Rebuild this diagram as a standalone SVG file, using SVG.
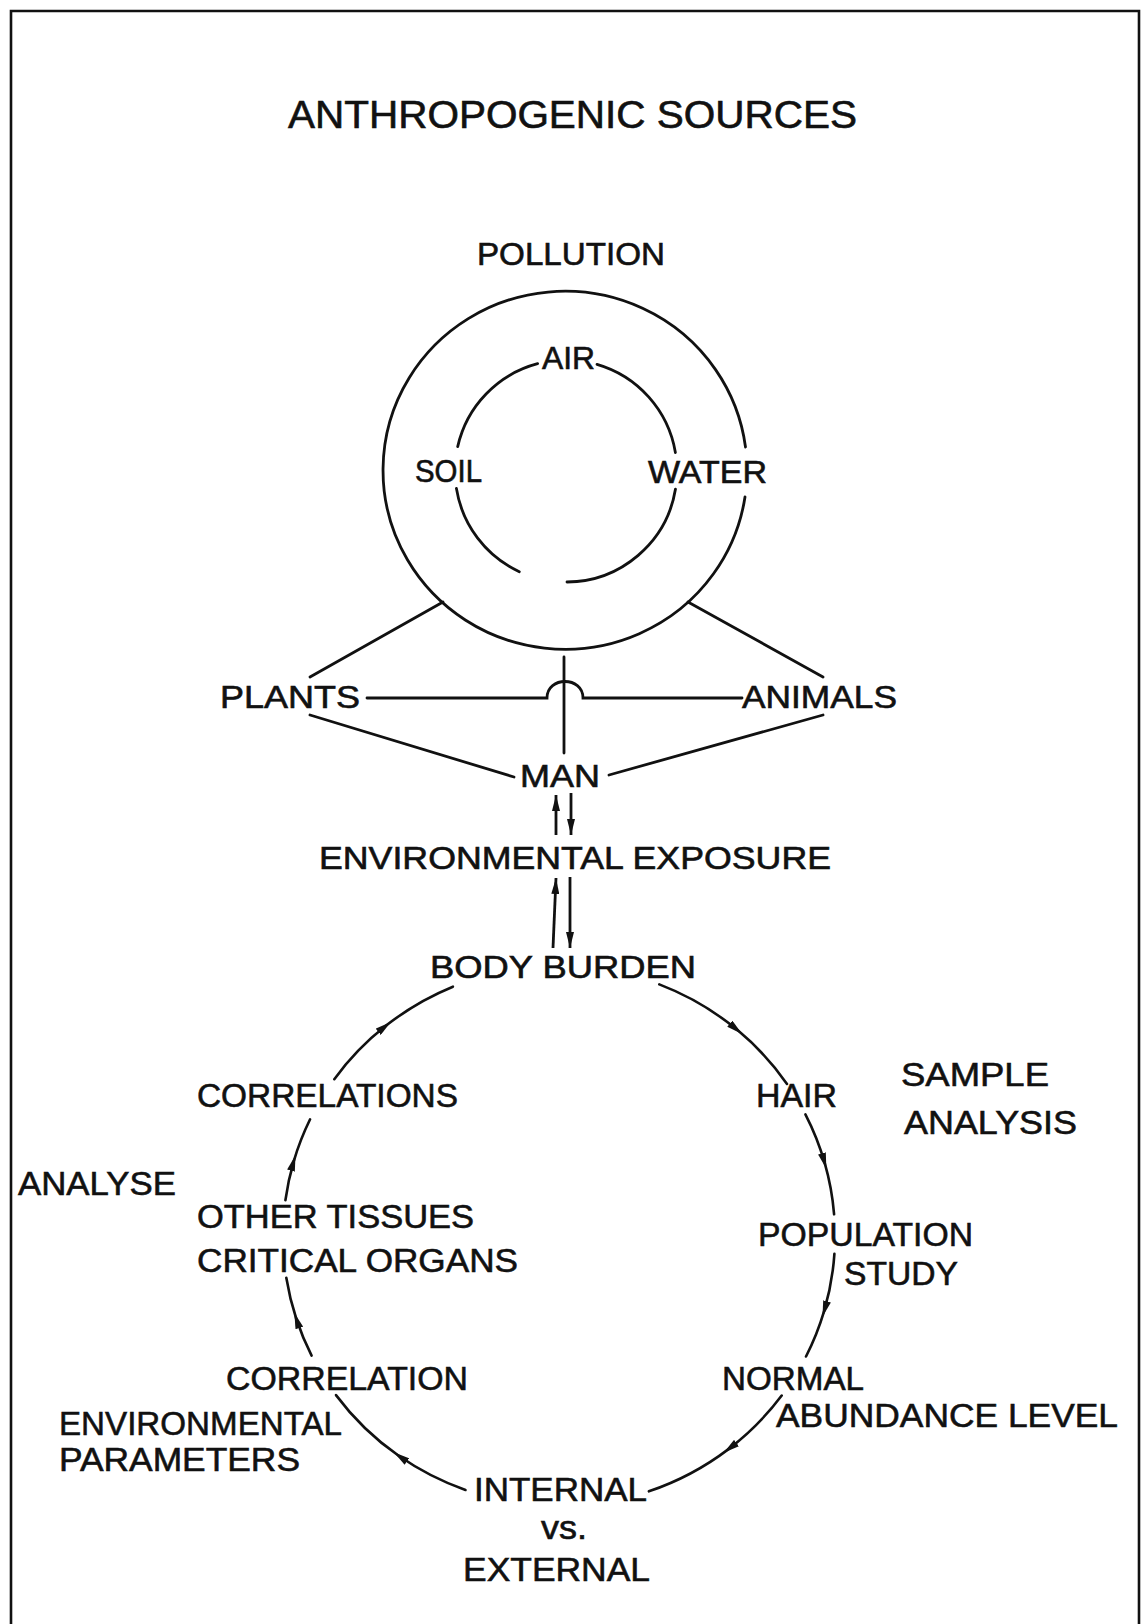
<svg xmlns="http://www.w3.org/2000/svg" width="1144" height="1624" viewBox="0 0 1144 1624">
<style>
.t{font-family:"Liberation Sans",Arial,sans-serif;font-size:31px;fill:#111;stroke:#111;stroke-width:0.6;}
.b{font-size:34px;}
.ln{fill:none;stroke:#111;stroke-width:2.8;stroke-linecap:round;}
.cy{fill:none;stroke:#111;stroke-width:2.6;stroke-linecap:round;marker-mid:url(#mid);}
.ar{fill:none;stroke:#111;stroke-width:2.8;marker-end:url(#tip);}
</style>
<defs>
<marker id="tip" viewBox="0 0 16 8" refX="16" refY="4" markerWidth="16" markerHeight="8" markerUnits="userSpaceOnUse" orient="auto"><path d="M0,0 L16,4 L0,8 Z" fill="#111"/></marker>
<marker id="mid" viewBox="0 0 16 8" refX="10" refY="4" markerWidth="16" markerHeight="8" markerUnits="userSpaceOnUse" orient="auto"><path d="M0,0 L16,4 L0,8 Z" fill="#111"/></marker>
</defs>
<rect width="1144" height="1624" fill="#fff"/>
<path d="M11,1624 V11 H1139 V1624" fill="none" stroke="#111" stroke-width="2.6"/>

<g id="title"><text class="t" x="288" y="128" style="font-size:38px" textLength="569" lengthAdjust="spacingAndGlyphs">ANTHROPOGENIC SOURCES</text></g>
<g id="pollution"><text class="t" x="477" y="265" textLength="188" lengthAdjust="spacingAndGlyphs">POLLUTION</text></g>

<g id="outer-ring"><path class="ln" d="M745,497 A182,179 0 1 1 745.5,447"/></g>
<g id="inner-ring">
<path class="ln" d="M457.7,446.6 A111,111 0 0 1 537.6,363.7"/>
<path class="ln" d="M597,364.4 A111,111 0 0 1 675.4,452.5"/>
<path class="ln" d="M675.5,489.1 A111,111 0 0 1 567,582"/>
<path class="ln" d="M519.3,571.7 A111,111 0 0 1 456.4,488.4"/>
</g>
<g id="air"><text class="t" x="542" y="369" textLength="53" lengthAdjust="spacingAndGlyphs">AIR</text></g>
<g id="soil"><text class="t" x="415" y="482" textLength="67" lengthAdjust="spacingAndGlyphs">SOIL</text></g>
<g id="water"><text class="t" x="648" y="483" textLength="119" lengthAdjust="spacingAndGlyphs">WATER</text></g>

<g id="plants"><text class="t" x="220" y="708" textLength="140" lengthAdjust="spacingAndGlyphs">PLANTS</text></g>
<g id="animals"><text class="t" x="742" y="708" textLength="155" lengthAdjust="spacingAndGlyphs">ANIMALS</text></g>
<g id="man"><text class="t" x="520" y="787" textLength="80" lengthAdjust="spacingAndGlyphs">MAN</text></g>
<g id="environmental-exposure"><text class="t" x="319" y="869" textLength="512" lengthAdjust="spacingAndGlyphs">ENVIRONMENTAL  EXPOSURE</text></g>
<g id="body-burden"><text class="t" x="430" y="978" textLength="266" lengthAdjust="spacingAndGlyphs">BODY  BURDEN</text></g>

<g id="connectors">
<path class="ln" d="M443,602 L310,677"/>
<path class="ln" d="M688,602 L823,677"/>
<path class="ln" d="M310,715 L514,777"/>
<path class="ln" d="M823,715 L609,775"/>
<path class="ln" d="M367,698 H547 C547,676 583,676 583,698 H742"/>
<path class="ln" d="M564,657 V753"/>
<path class="ar" d="M556,835 V795"/>
<path class="ar" d="M571,793 V835"/>
<path class="ar" d="M553,948 L556,878"/>
<path class="ar" d="M570,877 V948"/>
<path class="cy" d="M659.3,984.4 A276,270 0 0 1 737.5,1030.1 A276,270 0 0 1 787,1083.9"/>
<path class="cy" d="M805.4,1114.3 A276,270 0 0 1 824.7,1162.9 A276,270 0 0 1 834.1,1214.3"/>
<path class="cy" d="M834.4,1253.9 A276,270 0 0 1 824.2,1310.9 A276,270 0 0 1 806,1356.5"/>
<path class="cy" d="M781.7,1395.5 A276,270 0 0 1 728.5,1449.1 A276,270 0 0 1 648.9,1491.3"/>
<path class="cy" d="M465.5,1490 A276,270 0 0 1 398.7,1455.8 A276,270 0 0 1 336,1395.1"/>
<path class="cy" d="M311.6,1355.6 A276,270 0 0 1 296.2,1318.5 A276,270 0 0 1 286.3,1277.8"/>
<path class="cy" d="M285.4,1200.3 A276,270 0 0 1 293.8,1161.1 A276,270 0 0 1 310.1,1119.3"/>
<path class="cy" d="M334.3,1079.2 A276,270 0 0 1 386.1,1025.6 A276,270 0 0 1 452.9,986.7"/>
</g>

<g id="correlations"><text class="t b" x="197" y="1107" textLength="261" lengthAdjust="spacingAndGlyphs">CORRELATIONS</text></g>
<g id="hair"><text class="t b" x="756" y="1107" textLength="81" lengthAdjust="spacingAndGlyphs">HAIR</text></g>
<g id="sample-analysis">
<text class="t b" x="901" y="1086" textLength="148" lengthAdjust="spacingAndGlyphs">SAMPLE</text>
<text class="t b" x="904" y="1134" textLength="173" lengthAdjust="spacingAndGlyphs">ANALYSIS</text>
</g>
<g id="analyse"><text class="t b" x="18" y="1195" textLength="158" lengthAdjust="spacingAndGlyphs">ANALYSE</text></g>
<g id="other-tissues">
<text class="t b" x="197" y="1228" textLength="277" lengthAdjust="spacingAndGlyphs">OTHER TISSUES</text>
<text class="t b" x="197" y="1272" textLength="321" lengthAdjust="spacingAndGlyphs">CRITICAL ORGANS</text>
</g>
<g id="population-study">
<text class="t b" x="758" y="1246" textLength="215" lengthAdjust="spacingAndGlyphs">POPULATION</text>
<text class="t b" x="844" y="1285" textLength="114" lengthAdjust="spacingAndGlyphs">STUDY</text>
</g>
<g id="correlation"><text class="t b" x="226" y="1390" textLength="242" lengthAdjust="spacingAndGlyphs">CORRELATION</text></g>
<g id="environmental-parameters">
<text class="t b" x="59" y="1435" textLength="283" lengthAdjust="spacingAndGlyphs">ENVIRONMENTAL</text>
<text class="t b" x="59" y="1471" textLength="241" lengthAdjust="spacingAndGlyphs">PARAMETERS</text>
</g>
<g id="normal-abundance">
<text class="t b" x="722" y="1390" textLength="142" lengthAdjust="spacingAndGlyphs">NORMAL</text>
<text class="t b" x="776" y="1427" textLength="342" lengthAdjust="spacingAndGlyphs">ABUNDANCE LEVEL</text>
</g>
<g id="internal-external">
<text class="t b" x="474" y="1501" textLength="173" lengthAdjust="spacingAndGlyphs">INTERNAL</text>
<text class="t b" x="541" y="1539" textLength="46" lengthAdjust="spacingAndGlyphs">vs.</text>
<text class="t b" x="463" y="1581" textLength="187" lengthAdjust="spacingAndGlyphs">EXTERNAL</text>
</g>
</svg>
